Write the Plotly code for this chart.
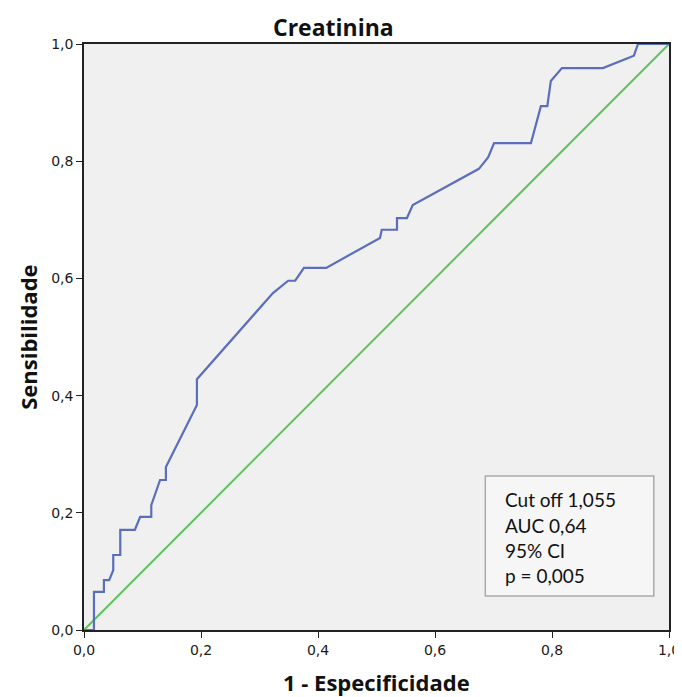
import plotly.graph_objects as go

# ROC curve points (1 - specificity, sensitivity)
fpr = [0.0, 0.017, 0.017, 0.034, 0.034, 0.043, 0.050, 0.050, 0.062, 0.062,
       0.087, 0.096, 0.115, 0.115, 0.130, 0.140, 0.140, 0.193, 0.193, 0.323,
       0.349, 0.361, 0.376, 0.414, 0.506, 0.509, 0.535, 0.535, 0.552, 0.562,
       0.675, 0.691, 0.701, 0.764, 0.781, 0.792, 0.798, 0.817, 0.887, 0.940,
       0.947, 1.0]
tpr = [0.0, 0.0, 0.065, 0.065, 0.085, 0.085, 0.102, 0.128, 0.128, 0.171,
       0.171, 0.193, 0.193, 0.213, 0.256, 0.256, 0.278, 0.384, 0.428, 0.575,
       0.596, 0.596, 0.618, 0.618, 0.669, 0.683, 0.683, 0.703, 0.703, 0.725,
       0.787, 0.807, 0.831, 0.831, 0.894, 0.894, 0.937, 0.959, 0.959, 0.980,
       1.0, 1.0]
ref_x = [0.0, 1.0]
ref_y = [0.0, 1.0]

tick_vals = [0.0, 0.2, 0.4, 0.6, 0.8, 1.0]
tick_text = ["0,0", "0,2", "0,4", "0,6", "0,8", "1,0"]

box_lines = ["Cut off 1,055", "AUC 0,64", "95% CI", "p = 0,005"]
box_line_y = [0.222, 0.179, 0.135, 0.093]

title_text = "Creatinina"
x_title = "1 - Especificidade"
y_title = "Sensibilidade"

fig = go.Figure()
fig.add_trace(go.Scatter(x=ref_x, y=ref_y, mode="lines",
                         line=dict(color="#5cc45c", width=2), showlegend=False,
                         hoverinfo="skip"))
fig.add_trace(go.Scatter(x=fpr, y=tpr, mode="lines",
                         line=dict(color="#5a6ebd", width=2.2), showlegend=False))

axis_common = dict(range=[0, 1], tickvals=tick_vals, ticktext=tick_text,
                   showgrid=False, zeroline=False, showline=True, mirror=True,
                   linecolor="#222222", linewidth=1.6, ticks="outside",
                   ticklen=6, tickwidth=1.4, tickcolor="#222222", automargin=False,
                   ticklabeloverflow="allow",
                   tickfont=dict(family="DejaVu Sans", size=14, color="#1a1a1a"))

fig.update_xaxes(**axis_common)
fig.update_yaxes(**axis_common)

fig.add_shape(type="rect", xref="x", yref="y", x0=0.686, x1=0.974, y0=0.058, y1=0.263,
              line=dict(color="#aaaaaa", width=1.5), fillcolor="#f6f6f6", layer="above")

annotations = []
for txt, yy in zip(box_lines, box_line_y):
    annotations.append(dict(x=0.717, y=yy, xref="x", yref="y", text=txt, showarrow=False,
                            xanchor="left", yanchor="middle",
                            font=dict(family="Lato", size=19, color="#111111")))
annotations.append(dict(x=0.426, y=1.029, xref="paper", yref="paper", text="<b>%s</b>" % title_text,
                        showarrow=False, xanchor="center", yanchor="middle",
                        font=dict(family="Open Sans", size=23, color="#111111")))
annotations.append(dict(x=0.5, y=-0.0895, xref="paper", yref="paper", text="<b>%s</b>" % x_title,
                        showarrow=False, xanchor="center", yanchor="middle",
                        font=dict(family="Open Sans", size=22, color="#111111")))
annotations.append(dict(x=-0.096, y=0.5, xref="paper", yref="paper", text="<b>%s</b>" % y_title,
                        showarrow=False, xanchor="center", yanchor="middle", textangle=-90,
                        font=dict(family="Open Sans", size=22, color="#111111")))

# page body adds an 8px offset, so the figure is sized to fill the rest of the window
fig.update_layout(width=674, height=689, margin=dict(l=76, r=13, t=36, b=67),
                  plot_bgcolor="#f0f0f0", paper_bgcolor="white",
                  annotations=annotations)

fig.write_html("out.html")
